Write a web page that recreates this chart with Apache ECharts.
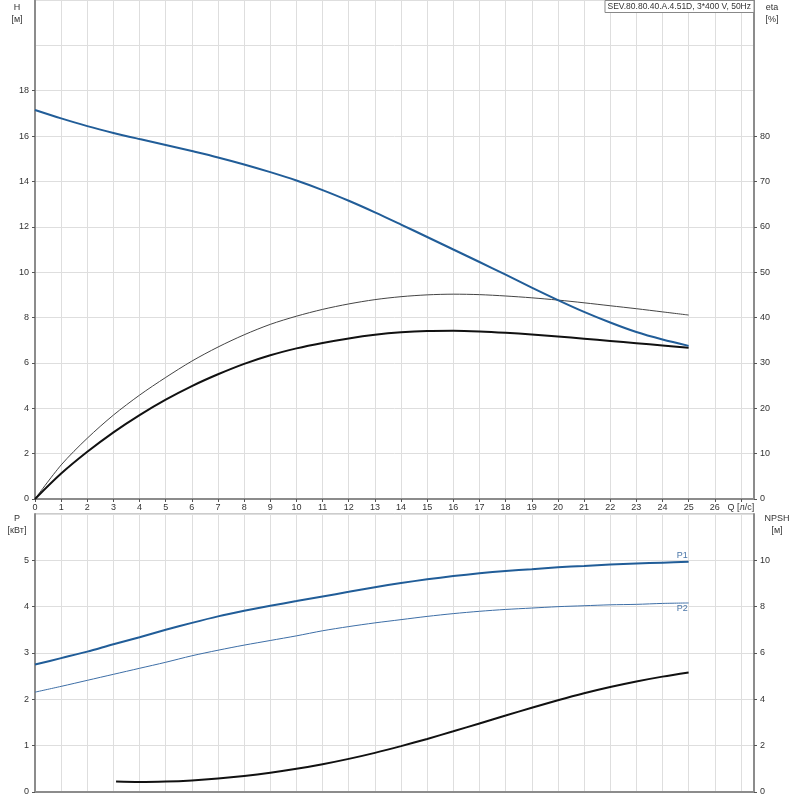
<!DOCTYPE html>
<html>
<head>
<meta charset="utf-8">
<script src="https://cdn.jsdelivr.net/npm/echarts@6/dist/echarts.min.js"></script>
<style>
  html, body { margin: 0; padding: 0; background: #fff; }
  #chart { width: 800px; height: 800px; }
</style>
</head>
<body>
<div id="chart"></div>
<script>
// Q [л/с] for the full curves
const flow = [0, 1, 2, 3, 4, 5, 6, 7, 8, 9, 10, 11, 12, 13, 14, 15, 16, 17, 18, 19, 20, 21, 22, 23, 24, 25];

const head = [17.15, 16.78, 16.44, 16.14, 15.87, 15.61, 15.34, 15.06, 14.75, 14.41, 14.04, 13.62, 13.15,
  12.64, 12.1, 11.55, 11.0, 10.45, 9.89, 9.32, 8.77, 8.25, 7.78, 7.36, 7.03, 6.75];

const etaPump = [0, 7.5, 13.4, 18.5, 22.9, 26.8, 30.4, 33.5, 36.2, 38.5, 40.3, 41.8, 43.0, 43.95,
  44.6, 45.0, 45.15, 45.05, 44.75, 44.35, 43.85, 43.25, 42.6, 41.95, 41.25, 40.55];

const etaTotal = [0, 5.6, 10.4, 14.7, 18.5, 21.9, 24.9, 27.5, 29.8, 31.7, 33.2, 34.4, 35.4, 36.2,
  36.75, 37.05, 37.1, 36.95, 36.65, 36.25, 35.8, 35.35, 34.85, 34.35, 33.85, 33.35];

const p1 = [2.75, 2.89, 3.03, 3.19, 3.34, 3.5, 3.65, 3.79, 3.91, 4.02, 4.12, 4.22, 4.32, 4.42,
  4.51, 4.59, 4.66, 4.72, 4.77, 4.81, 4.85, 4.88, 4.91, 4.93, 4.95, 4.97];

const p2 = [2.155, 2.28, 2.41, 2.54, 2.67, 2.8, 2.94, 3.06, 3.17, 3.27, 3.37, 3.48, 3.57, 3.65,
  3.72, 3.79, 3.85, 3.9, 3.94, 3.97, 4.0, 4.02, 4.04, 4.05, 4.07, 4.08];

// NPSH starts a bit later on the flow axis
const npshFlow = [3.1, 4, 5, 6, 7, 8, 9, 10, 11, 12, 13, 14, 15, 16, 17, 18, 19, 20, 21, 22, 23, 24, 25];
const npsh = [0.45, 0.43, 0.45, 0.5, 0.58, 0.69, 0.83, 1.0, 1.2, 1.43, 1.69, 1.98, 2.29, 2.62,
  2.96, 3.3, 3.64, 3.96, 4.26, 4.53, 4.77, 4.98, 5.16];

// tick labels
const qTicks = [0, 1, 2, 3, 4, 5, 6, 7, 8, 9, 10, 11, 12, 13, 14, 15, 16, 17, 18, 19, 20, 21, 22, 23, 24, 25, 26, 27];
const hTicks = [0, 2, 4, 6, 8, 10, 12, 14, 16, 18];
const etaTicks = [0, 10, 20, 30, 40, 50, 60, 70, 80];
const pTicks = [0, 1, 2, 3, 4, 5];
const npshTicks = [0, 2, 4, 6, 8, 10];

const title = "SEV.80.80.40.A.4.51D, 3*400 V, 50Hz";

const pairs = (xs, ys) => xs.map((x, i) => [x, ys[i]]);

const chart = echarts.init(document.getElementById("chart"));

const font = "Liberation Sans, Arial, sans-serif";
const labelStyle = { fontSize: 9, color: "#333", fontFamily: font };
const splitLine = { show: true, lineStyle: { color: "#dedede", width: 1 } };
const axisLine = { show: true, lineStyle: { color: "#8c8c8c", width: 2 } };
const axisTick = { show: true, length: 3, lineStyle: { color: "#555" } };
const blue = "#215d98";

// axis that only draws horizontal grid lines
const gridAxis = (gridIndex, max, interval) => ({
  gridIndex, type: "value", position: "left", min: 0, max, interval,
  axisLine: { show: false }, axisTick: { show: false }, axisLabel: { show: false }, splitLine,
});

const nameText = (x, y, text) => ({
  type: "text", x, y, z: 10,
  style: { text, fill: "#333", font: "9px " + font, align: "center", verticalAlign: "top", lineHeight: 12 },
});

chart.setOption({
  animation: false,
  title: {
    text: title,
    right: 46,
    top: 0,
    padding: [2, 3],
    borderColor: "#888",
    borderWidth: 1,
    backgroundColor: "#fff",
    textStyle: { fontSize: 8.5, fontWeight: "normal", color: "#333", fontFamily: font },
    z: 10,
  },
  graphic: [
    nameText(17, 2, "H\n[м]"),
    nameText(772, 2, "eta\n[%]"),
    nameText(17, 513, "P\n[кВт]"),
    nameText(777, 513, "NPSH\n[м]"),
  ],
  grid: [
    { left: 35, right: 46, top: 0, height: 499, show: true, borderColor: "#999", borderWidth: 1 },
    { left: 35, right: 46, top: 514, height: 278, show: true, borderColor: "#999", borderWidth: 1 },
  ],
  xAxis: [
    {
      gridIndex: 0, type: "value", position: "bottom", min: 0, max: 27.5, interval: 1,
      axisLine, splitLine,
      axisTick: { ...axisTick, customValues: qTicks },
      axisLabel: {
        ...labelStyle, margin: 4, customValues: qTicks,
        formatter: (v) => (v === 27 ? "Q [л/с]" : String(v)),
      },
    },
    {
      gridIndex: 1, type: "value", position: "bottom", min: 0, max: 27.5, interval: 1,
      axisLine, axisTick: { show: false }, splitLine,
      axisLabel: { show: false },
    },
  ],
  yAxis: [
    {
      gridIndex: 0, type: "value", position: "left", min: 0, max: 22, interval: 2,
      axisLine, splitLine: { show: false },
      axisTick: { ...axisTick, customValues: hTicks },
      axisLabel: { ...labelStyle, margin: 6, customValues: hTicks },
    },
    {
      gridIndex: 0, type: "value", position: "right", min: 0, max: 110, interval: 10,
      axisLine, splitLine: { show: false },
      axisTick: { ...axisTick, customValues: etaTicks },
      axisLabel: { ...labelStyle, margin: 6, customValues: etaTicks },
    },
    {
      gridIndex: 1, type: "value", position: "left", min: 0, max: 6, interval: 1,
      axisLine, splitLine: { show: false },
      axisTick: { ...axisTick, customValues: pTicks },
      axisLabel: { ...labelStyle, margin: 6, customValues: pTicks },
    },
    {
      gridIndex: 1, type: "value", position: "right", min: 0, max: 12, interval: 2,
      axisLine, splitLine: { show: false },
      axisTick: { ...axisTick, customValues: npshTicks },
      axisLabel: { ...labelStyle, margin: 6, customValues: npshTicks },
    },
    gridAxis(0, 22, 2),
    gridAxis(1, 6, 1),
  ],
  series: [
    {
      name: "H", type: "line", xAxisIndex: 0, yAxisIndex: 0, smooth: 0.3, showSymbol: false,
      data: pairs(flow, head), lineStyle: { color: blue, width: 2 }, z: 5,
    },
    {
      name: "eta", type: "line", xAxisIndex: 0, yAxisIndex: 1, smooth: 0.3, showSymbol: false,
      data: pairs(flow, etaPump), lineStyle: { color: "#444", width: 1 },
    },
    {
      name: "eta total", type: "line", xAxisIndex: 0, yAxisIndex: 1, smooth: 0.3, showSymbol: false,
      data: pairs(flow, etaTotal), lineStyle: { color: "#111", width: 2 },
    },
    {
      name: "P1", type: "line", xAxisIndex: 1, yAxisIndex: 2, smooth: 0.3, showSymbol: false,
      data: pairs(flow, p1), lineStyle: { color: blue, width: 2 },
      endLabel: { show: true, formatter: "P1", offset: [-20, -6], fontSize: 9, color: "#4a76a8", fontFamily: font },
    },
    {
      name: "P2", type: "line", xAxisIndex: 1, yAxisIndex: 2, smooth: 0.3, showSymbol: false,
      data: pairs(flow, p2), lineStyle: { color: "#3d6ea6", width: 1 },
      endLabel: { show: true, formatter: "P2", offset: [-20, 6], fontSize: 9, color: "#4a76a8", fontFamily: font },
    },
    {
      name: "NPSH", type: "line", xAxisIndex: 1, yAxisIndex: 3, smooth: 0.3, showSymbol: false,
      data: pairs(npshFlow, npsh), lineStyle: { color: "#111", width: 2 },
    },
  ],
});
</script>
</body>
</html>
